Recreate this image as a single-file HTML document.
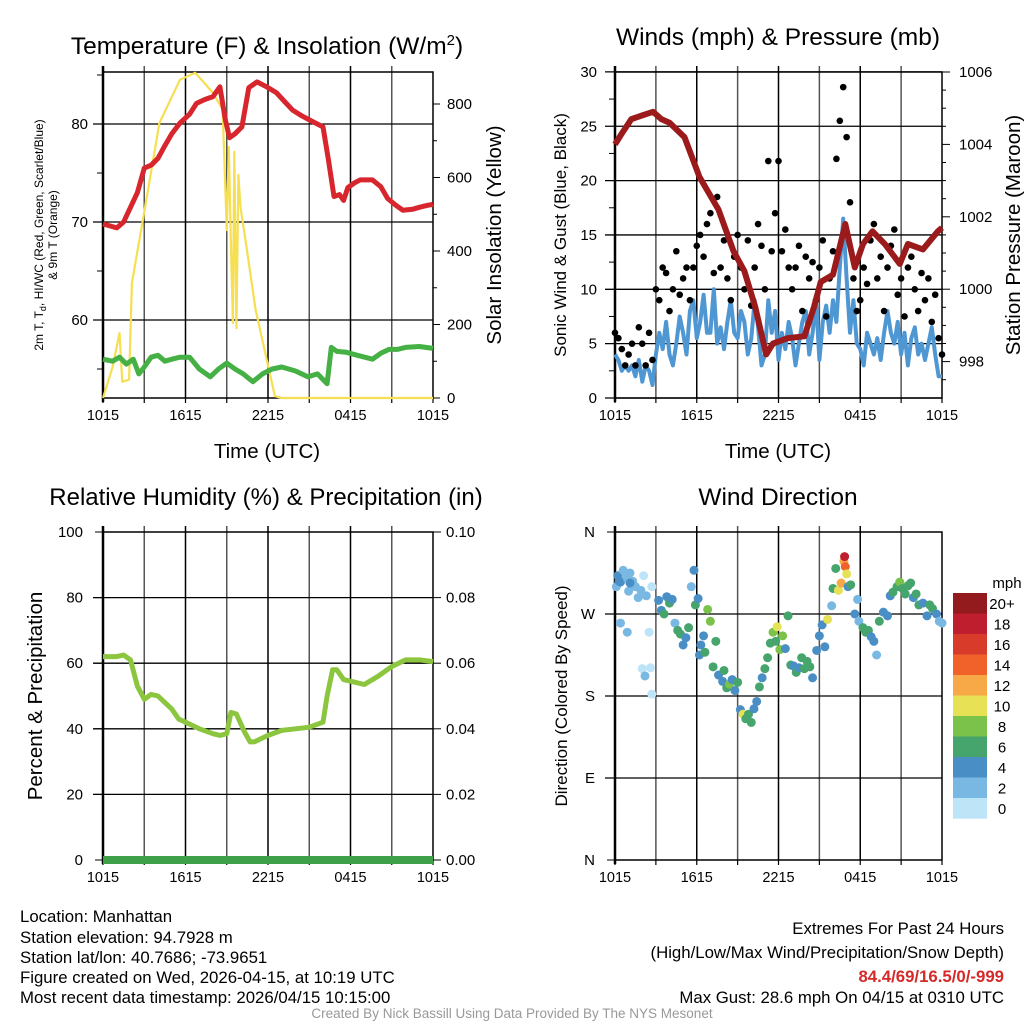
<!DOCTYPE html>
<html><head><meta charset="utf-8">
<style>
html,body{margin:0;padding:0;background:#fff;}
svg{display:block;font-family:"Liberation Sans",sans-serif;}
</style></head>
<body>
<svg id="chart" width="1024" height="1024" viewBox="0 0 1024 1024">
<rect width="1024" height="1024" fill="#fff"/>
<g id="p1"></g>
<g id="p2"></g>
<g id="p3"></g>
<g id="p4"></g>
<g font-size="16.8" fill="#000">
<text x="20" y="922">Location: Manhattan</text>
<text x="20" y="943">Station elevation: 94.7928 m</text>
<text x="20" y="963">Station lat/lon: 40.7686; -73.9651</text>
<text x="20" y="983">Figure created on Wed, 2026-04-15, at 10:19 UTC</text>
<text x="20" y="1003">Most recent data timestamp: 2026/04/15 10:15:00</text>
</g>
<g font-size="16.8" text-anchor="end">
<text x="1004" y="934">Extremes For Past 24 Hours</text>
<text x="1004" y="958">(High/Low/Max Wind/Precipitation/Snow Depth)</text>
<text x="1004" y="982" fill="#d42a2a" font-weight="bold">84.4/69/16.5/0/-999</text>
<text x="1004" y="1003">Max Gust: 28.6 mph On 04/15 at 0310 UTC</text>
</g>
<text x="512" y="1018" font-size="13.5" fill="#999" text-anchor="middle">Created By Nick Bassill Using Data Provided By The NYS Mesonet</text>
</svg>
<script>
// ---- Temperature panel data ----
const tempHours = [0,0.5,1,1.5,2,2.5,3,3.5,4,4.5,5,5.6,6.3,6.8,7.4,8.0,8.5,8.9,9.2,9.6,10.1,10.6,11.2,11.9,12.6,13.2,13.8,14.5,15.3,16,16.4,16.8,17.2,17.5,17.8,18.3,18.7,19.6,20.2,20.7,21.3,21.8,22.5,23,23.6,24];
const tempF = [69.8,69.6,69.4,70,71.5,73,75.5,75.8,76.5,77.8,79,80.1,81,82.1,82.5,82.8,83.8,80.4,78.6,79,79.7,83.7,84.3,83.8,83.2,82.3,81.4,80.8,80.2,79.7,76.3,72.6,72.8,72.2,73.5,74,74.3,74.3,73.6,72.4,71.7,71.2,71.3,71.5,71.7,71.8];
const dewHours = [0,0.7,1.2,1.7,2.2,2.6,3,3.5,4,4.5,5,5.6,6.3,7,7.8,8.4,9,9.6,10.2,10.9,11.6,12.3,13,14,14.9,15.6,16.3,16.6,17,17.7,18.5,19.6,20.2,20.8,21.4,22,23,24];
const dewF = [56,55.8,56.2,55.5,56,54.5,55.2,56.2,56.4,55.8,56,56.2,56.2,55,54.2,55,55.6,55,54.5,53.7,54.5,55,55.2,54.8,54.2,54.5,53.5,57.2,56.8,56.7,56.4,56,56.6,57,57,57.2,57.3,57.1];
const solHours = [0,0.7,1.2,1.4,1.9,2.1,2.9,4.1,5.6,6.7,7.3,8,8.7,9,9.15,9.3,9.45,9.55,9.7,9.85,10,10.4,11.1,11.8,12.5,13,18,24];
const solWm2 = [0,84,177,44,50,313,485,748,866,885,860,830,785,457,683,420,204,670,190,607,520,420,240,122,5,0,0,0];
// ---- Wind panel data ----
const windHours = Array.from({length:97},(_,i)=>i*0.25);
const sonicWind = [4,3.5,2.5,3, 2.5,3,2,3.5, 1.5,3,2.5,1.2, 4,6,4.5,7, 4,3,5,7.5, 6,4,8,9, 5.5,7,9.5,6, 6,10,5,6.5, 4.5,7,9,6, 5.5,8,7,4, 5.5,9,6.5,3, 4,9,6,8, 3.5,6,4.5,7, 5.5,3,5,7, 8,4,6,9, 3.5,7,8.5,6, 9,7,12,16.5, 11,6,9,5, 4.5,3,6,5, 4,5.5,3.5,6, 8,6,5,7, 4,6,3,5.5, 6.5,4,5,3.5, 5,6.5,4,2, 2];
const gustWind = [6,5.5,4.5,3, 4,5,3,6.5, 5,3,6,3.5, 10,9,12,11.5, 8,10,13.5,9.5, 11,12,9,12, 14,15,13,16, 17,11.5,18.5,12, 14.5,11,9,13, 15,12,10,14.5, 8.5,12,16,14, 10,21.8,13.5,17, 21.8,13.5,15.5,12, 10,12,14,8, 13,11,12.5,9, 12,14.5,7.5,11, 13.5,22,25.5,28.6, 24,18,11,8, 9,12,10.5,14.5, 16,11,13,8, 12,14,15.5,9.5, 11,7.5,12,13, 10,8,11.5,9, 11,7,9.5,5.5, 4];
const presHours = [0,0.5,1.2,2,2.8,3.4,4,5.1,6.2,7.6,8.7,9.5,10.3,11.1,11.6,12.7,13.9,14.6,15.1,16,16.9,17.6,18.2,18.9,19.8,20.9,21.5,22.6,23.7,24];
const presMb = [1004,1004.3,1004.7,1004.8,1004.9,1004.7,1004.6,1004.2,1003.1,1002.2,1001.05,1000.5,999.5,998.2,998.5,998.65,998.7,999.5,1000.2,1000.4,1001.8,1000.6,1001.25,1001.6,1001.25,1000.7,1001.25,1001.1,1001.6,1001.7];
// ---- Humidity panel data ----
const rhHours = [0,1,1.5,2,2.5,3,3.5,4,4.5,5,5.5,6,7,8,8.5,9,9.3,9.7,10.3,10.7,11,12,13,14,15,16,16.3,16.7,17,17.5,18,19,20,21,22,23,24];
const rhPct = [62,62,62.5,61,53,49,50.5,50,48,46,43,42,40,38.5,38,38.5,45,44.5,39,36,36,38,39.5,40,40.5,42,50,58,58,55,54.5,53.5,56,59,61,61,60.5];
const precipHours = [0,24];
const precipIn = [0,0];
// ---- Wind direction data ----
const dirHours = [0.1,0.2,0.4,0.6,0.8,1.0,1.1,1.3,1.5,1.7,1.9,2.1,2.3,2.5,2.7,0.4,0.9,2.0,2.2,2.6,2.7,1.1,0.3,3.2,3.4,3.6,3.8,4.0,4.2,4.4,4.6,4.8,5.0,5.2,5.4,5.6,5.8,5.9,6.1,6.2,6.3,6.5,6.6,6.8,7.0,7.2,7.4,7.6,7.9,8.0,8.2,8.4,8.6,8.8,9.0,9.2,9.4,9.6,9.8,10.0,10.2,10.4,10.6,10.8,11.0,11.2,11.4,11.6,11.8,11.9,12.1,12.3,12.5,12.7,12.9,13.1,13.3,13.5,13.7,13.9,14.1,14.3,14.5,14.8,15.0,15.2,15.4,15.6,15.9,16.0,16.2,16.4,16.6,16.8,16.85,16.9,17.0,17.1,17.3,17.6,17.8,17.9,18.2,18.4,18.6,18.8,19.0,19.2,19.4,19.7,20.0,20.2,20.4,20.7,20.9,21.1,21.3,21.5,21.7,21.9,22.1,22.3,22.6,22.9,23.1,23.3,23.6,23.8,24.0];
const dirDeg = [300,312,305,318,310,295,315,306,300,288,296,312,290,250,300,260,250,210,202,211,182,304,306,285,274,270,289,282,286,260,252,248,236,244,255,300,318,280,287,225,236,246,228,275,262,212,240,203,196,208,189,193,198,186,195,165,160,155,160,151,166,174,190,200,210,222,238,250,240,256,231,246,232,268,214,213,206,211,222,210,218,212,200,230,246,258,234,264,279,298,320,296,304,328,333,322,314,300,302,270,286,262,255,250,252,245,240,225,262,272,268,290,294,300,305,298,292,301,304,288,292,280,282,268,280,276,270,262,260];
const dirSpeed = [3,4,4,2,2,3,2,2,2,2,3,1,2,1,1,2,2,1,2,1,1,4,4,4,5,6,5,7,4,3,7,6,4,4,7,3,4,6,4,4,4,4,6,8,8,7,6,4,4,6,7,8,4,4,6,4,10,6,6,6,4,4,6,4,7,6,6,8,6,10,8,8,4,6,6,4,6,4,6,6,7,6,4,4,4,4,4,10,2,7,6,10,12,13,18,14,10,5,6,4,2,2,6,6,7,4,4,2,6,4,4,4,6,6,8,7,6,6,6,4,6,6,4,4,6,7,4,2,2];
const legendLabels = ["20+","18","16","14","12","10","8","6","4","2","0"];
const legendColors = ["#931a1d","#be1e2d","#d93b2b","#f06229","#f7a847","#e6e155","#7bc24a","#46a46d","#4a8ec6","#7ab8e4","#bde4f7"];
const timeTicks = ["1015","1615","2215","0415","1015"];

const NS="http://www.w3.org/2000/svg";
function el(parent,tag,attrs){const e=document.createElementNS(NS,tag);for(const k in attrs)e.setAttribute(k,attrs[k]);parent.appendChild(e);return e;}
function txt(parent,x,y,s,size,anchor,extra){const t=el(parent,"text",Object.assign({x:x,y:y,"font-size":size,"text-anchor":anchor||"middle"},extra||{}));t.textContent=s;return t;}
function linePath(xs,ys,fx,fy){return xs.map((h,i)=>(i?"L":"M")+fx(h).toFixed(1)+","+fy(ys[i]).toFixed(1)).join("");}

function frame(g,x0,x1,y0,y1,hGrid){
  for(let k=1;k<8;k++){const x=x0+(x1-x0)*k/8;
    const v=el(g,"line",{x1:x,x2:x,y1:y0-6,y2:y1,stroke:k%2?"#555":"#000","stroke-width":1.5});
    
    }
  hGrid.forEach(y=>{const l=el(g,"line",{x1:x0-10,x2:x1,y1:y,y2:y,stroke:"#000","stroke-width":1.3});
    
    });
  const r=el(g,"rect",{x:x0,y:y0,width:x1-x0,height:y1-y0,fill:"none",stroke:"#000","stroke-width":1.5});
  
  
  el(g,"line",{x1:x0,x2:x0,y1:y0-6,y2:y1+4,stroke:"#000","stroke-width":2.5});
  for(let k=0;k<=8;k++){const x=x0+(x1-x0)*k/8;el(g,"line",{x1:x,x2:x,y1:y1,y2:y1+5,stroke:"#000","stroke-width":1.2});}
  timeTicks.forEach((s,i)=>{const t=txt(g,x0+(x1-x0)*i/4,y1+22,s,14.5);
    
    });
}

// ===== Panel 1 =====
(function(){
  const g=document.getElementById("p1");
  const x0=103,x1=433,y0=72,y1=398;
  const fx=h=>x0+h*(x1-x0)/24, fy=t=>124+(80-t)*9.8, fs=v=>398-v*0.3675;
  frame(g,x0,x1,y0,y1,[fy(80),fy(70),fy(60)]);
  [85,75,65,55].forEach(v=>el(g,"line",{x1:x0-6,x2:x0,y1:fy(v),y2:fy(v),stroke:"#000"}));
  [80,70,60].forEach(v=>{const t=txt(g,x0-15,fy(v)+5,String(v),15,"end");
    
    });
  [0,200,400,600,800].forEach(v=>{el(g,"line",{x1:x1,x2:x1+7,y1:fs(v),y2:fs(v),stroke:"#000"});
    const t=txt(g,x1+14,fs(v)+5,String(v),15,"start");
    
    });
  [100,300,500,700].forEach(v=>el(g,"line",{x1:x1,x2:x1+4,y1:fs(v),y2:fs(v),stroke:"#000"}));
  const s=el(g,"path",{d:linePath(solHours,solWm2,fx,fs),fill:"none",stroke:"#f6df52","stroke-width":2.2,"stroke-linejoin":"round"});
   
  const d=el(g,"path",{d:linePath(dewHours,dewF,fx,fy),fill:"none",stroke:"#45b043","stroke-width":5,"stroke-linejoin":"round"});
   
  const r=el(g,"path",{d:linePath(tempHours,tempF,fx,fy),fill:"none",stroke:"#d7262d","stroke-width":5,"stroke-linejoin":"round"});
   
  const ti=txt(g,267,54,"Temperature (F) & Insolation (W/m",24.5);
  const sup=el(ti,"tspan",{dy:-9,"font-size":15});sup.textContent="2";
  const cl=el(ti,"tspan",{dy:9});cl.textContent=")";
   
  const xl=txt(g,267,458,"Time (UTC)",20.5);  
  const yl=el(g,"text",{transform:"translate(43,235) rotate(-90)","font-size":12,"text-anchor":"middle"});
  yl.innerHTML='2m T, T<tspan font-size="9" dy="3">d</tspan><tspan dy="-3">, HI/WC (Red, Green, Scarlet/Blue)</tspan>';
   
  const yl2=txt(g,0,0,"& 9m T (Orange)",12,"middle",{transform:"translate(57,235) rotate(-90)"});
   
  const yr=txt(g,0,0,"Solar Insolation (Yellow)",20.5,"middle",{transform:"translate(501,235) rotate(-90)"});
   
})();

// ===== Panel 2 =====
(function(){
  const g=document.getElementById("p2");
  const x0=615,x1=942,y0=72,y1=398;
  const fx=h=>x0+h*(x1-x0)/24, fw=v=>398-v*10.87, fp=p=>72+(1006-p)*36.2;
  frame(g,x0,x1,y0,y1,[0,5,10,15,20,25,30].map(fw));
  [0,5,10,15,20,25,30].forEach(v=>{const t=txt(g,x0-18,fw(v)+5,String(v),15,"end");
     });
  [2.5,7.5,12.5,17.5,22.5,27.5].forEach(v=>el(g,"line",{x1:x0-6,x2:x0,y1:fw(v),y2:fw(v),stroke:"#000"}));
  [998,1000,1002,1004,1006].forEach(p=>{el(g,"line",{x1:x1,x2:x1+8,y1:fp(p),y2:fp(p),stroke:"#000"});
    const t=txt(g,x1+17,fp(p)+5,String(p),15,"start");
     });
  [997.5,998.5,999,999.5,1000.5,1001,1001.5,1002.5,1003,1003.5,1004.5,1005,1005.5].forEach(p=>el(g,"line",{x1:x1,x2:x1+4,y1:fp(p),y2:fp(p),stroke:"#000"}));
  const b=el(g,"path",{d:linePath(windHours,sonicWind,fx,fw),fill:"none",stroke:"#4f97d3","stroke-width":4,"stroke-linejoin":"round"});
   
  windHours.forEach((h,i)=>{const c=el(g,"circle",{cx:fx(h),cy:fw(gustWind[i]),r:3.3,fill:"#000"});
     });
  const p=el(g,"path",{d:linePath(presHours,presMb,fx,fp),fill:"none",stroke:"#9b1a1c","stroke-width":6,"stroke-linejoin":"round"});
   
  const ti=txt(g,778,45,"Winds (mph) & Pressure (mb)",24.5);  
  const xl=txt(g,778,458,"Time (UTC)",20.5);  
  const yl=txt(g,0,0,"Sonic Wind & Gust (Blue, Black)",17,"middle",{transform:"translate(566,235) rotate(-90)"});
   
  const yr=txt(g,0,0,"Station Pressure (Maroon)",20.5,"middle",{transform:"translate(1020,235) rotate(-90)"});
   
})();

// ===== Panel 3 =====
(function(){
  const g=document.getElementById("p3");
  const x0=103,x1=433,y0=532,y1=860;
  const fx=h=>x0+h*(x1-x0)/24, fr=v=>860-v*3.28, fq=v=>860-v*3280;
  frame(g,x0,x1,y0,y1,[20,40,60,80].map(fr));
  [0,20,40,60,80,100].forEach(v=>{el(g,"line",{x1:x0-8,x2:x0,y1:fr(v),y2:fr(v),stroke:"#000"});
    const t=txt(g,x0-20,fr(v)+5,String(v),15,"end");
     });
  [0,0.02,0.04,0.06,0.08,0.10].forEach(v=>{el(g,"line",{x1:x1,x2:x1+8,y1:fq(v),y2:fq(v),stroke:"#000"});
    const t=txt(g,x1+13,fq(v)+5,v.toFixed(2),15,"start");
     });
  const r=el(g,"path",{d:linePath(rhHours,rhPct,fx,fr),fill:"none",stroke:"#8cc63f","stroke-width":5,"stroke-linejoin":"round"});
   
  const p=el(g,"path",{d:linePath(precipHours,precipIn,fx,fq),fill:"none",stroke:"#3fa04a","stroke-width":8});
   
  const ti=txt(g,266,505,"Relative Humidity (%) & Precipitation (in)",24);  
  const yl=txt(g,0,0,"Percent & Precipitation",20.5,"middle",{transform:"translate(42,696) rotate(-90)"});
   
})();

// ===== Panel 4 =====
(function(){
  const g=document.getElementById("p4");
  const x0=615,x1=942,y0=532,y1=860;
  const fx=h=>x0+h*(x1-x0)/24, fd=d=>860-d*0.9111;
  frame(g,x0,x1,y0,y1,[90,180,270].map(fd));
  [["N",0],["E",90],["S",180],["W",270],["N",360]].forEach(a=>{el(g,"line",{x1:x0-8,x2:x0,y1:fd(a[1]),y2:fd(a[1]),stroke:"#000"});
    const t=txt(g,x0-20,fd(a[1])+5,a[0],15,"end");
     });
  const col=s=>legendColors[10-Math.min(10,Math.floor(s/2))];
  dirHours.forEach((h,i)=>{const c=el(g,"circle",{cx:fx(h),cy:fd(dirDeg[i]),r:4.5,fill:col(dirSpeed[i])});
     });
  legendColors.forEach((c,i)=>{const r=el(g,"rect",{x:953,y:593+i*20.5,width:34,height:20.7,fill:c});
     
    const t=txt(g,1002,593+i*20.5+16,legendLabels[i],15);
     });
  const lt=txt(g,1007,588,"mph",15);  
  const ti=txt(g,778,505,"Wind Direction",24.5);  
  const yl=txt(g,0,0,"Direction (Colored By Speed)",17,"middle",{transform:"translate(567,696) rotate(-90)"});
   
})();
</script>
</body></html>
